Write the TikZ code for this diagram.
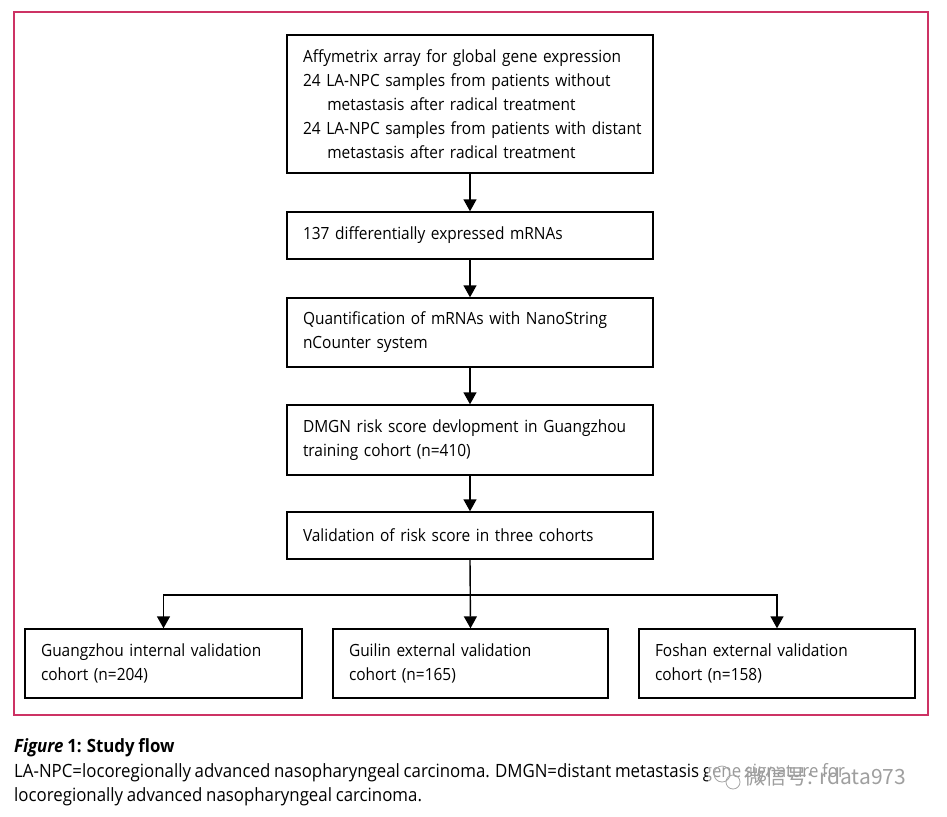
\documentclass[tikz,border=0pt]{standalone}
\usepackage{fontspec}
\setmainfont{Open Sans}[FakeStretch=0.92, WordSpace=0.85]
\newfontfamily\cjkfont{Noto Sans CJK SC}
\usetikzlibrary{arrows.meta}
\definecolor{framepink}{RGB}{205,50,100}
\tikzset{
  stepbox/.style={draw=black, line width=1.4pt, inner xsep=16pt, inner ysep=0pt, align=left, font=\fontsize{16.8}{24}\selectfont},
  arr/.style={line width=1.4pt, -{Triangle[length=12pt,width=13pt]}},
  captext/.style={anchor=base west, inner sep=0pt, font=\fontsize{18.3}{22}\selectfont}
}
\begin{document}
\begin{tikzpicture}[x=1pt,y=-1pt]
\useasboundingbox (0,0) rectangle (947,816);
\fill[white] (0,0) rectangle (947,816);
\draw[framepink, line width=1.2pt] (14,12) rectangle (928,715);

\node[stepbox, text width=334pt, minimum height=138pt] (b1) at (470,104) {\mbox{Affymetrix array for global gene expression}\\\mbox{24 LA-NPC samples from patients without}\\\hspace*{1.45em}\mbox{metastasis after radical treatment}\\\mbox{24 LA-NPC samples from patients with distant}\\\hspace*{1.45em}\mbox{metastasis after radical treatment}};
\node[stepbox, text width=334pt, minimum height=47pt] (b2) at (470,235.5) {137 differentially expressed mRNAs};
\node[stepbox, text width=334pt, minimum height=69pt] (b3) at (470,332.5) {Quantification of mRNAs with NanoString\\nCounter system};
\node[stepbox, text width=334pt, minimum height=70pt] (b4) at (470,440) {DMGN risk score devlopment in Guangzhou\\training cohort (n=410)};
\node[stepbox, text width=334pt, minimum height=47pt] (b5) at (470,535.5) {Validation of risk score in three cohorts};

\node[stepbox, text width=245pt, minimum height=69pt] (ba) at (163.5,663.5) {Guangzhou internal validation\\cohort (n=204)};
\node[stepbox, text width=243pt, minimum height=69pt] (bb) at (470.5,663.5) {Guilin external validation\\cohort (n=165)};
\node[stepbox, text width=244pt, minimum height=69pt] (bc) at (777,663.5) {Foshan external validation\\cohort (n=158)};

\draw[arr] (b1) -- (b2);
\draw[arr] (b2) -- (b3);
\draw[arr] (b3) -- (b4);
\draw[arr] (b4) -- (b5);
\coordinate (j) at (470,595);
\draw[arr] (b5.south) -- (bb.north);
\draw[arr] (j) -| (ba.north);
\draw[arr] (j) -| (bc.north);

\node[captext, font=\fontsize{18.3}{22}\selectfont\bfseries] (cap) at (14,752) {\textit{Figure} 1: Study flow};
\node[captext] (l1) at (14,777) {LA-NPC=locoregionally advanced nasopharyngeal carcinoma. DMGN=distant metastasis gene signature for};
\node[captext] (l2) at (14,801) {locoregionally advanced nasopharyngeal carcinoma.};

\fill[white, opacity=0.6] (708,762) rectangle (920,793);
\draw[gray!70, line width=0.8pt] (722,774) circle (8pt);
\draw[gray!70, line width=0.8pt] (733,782) circle (7pt);
\node[anchor=base west, inner sep=0pt, text=gray!75, font=\cjkfont\fontsize{21}{24}\selectfont] (wm) at (744,784) {微信号: rdata973};
\end{tikzpicture}
\end{document}
